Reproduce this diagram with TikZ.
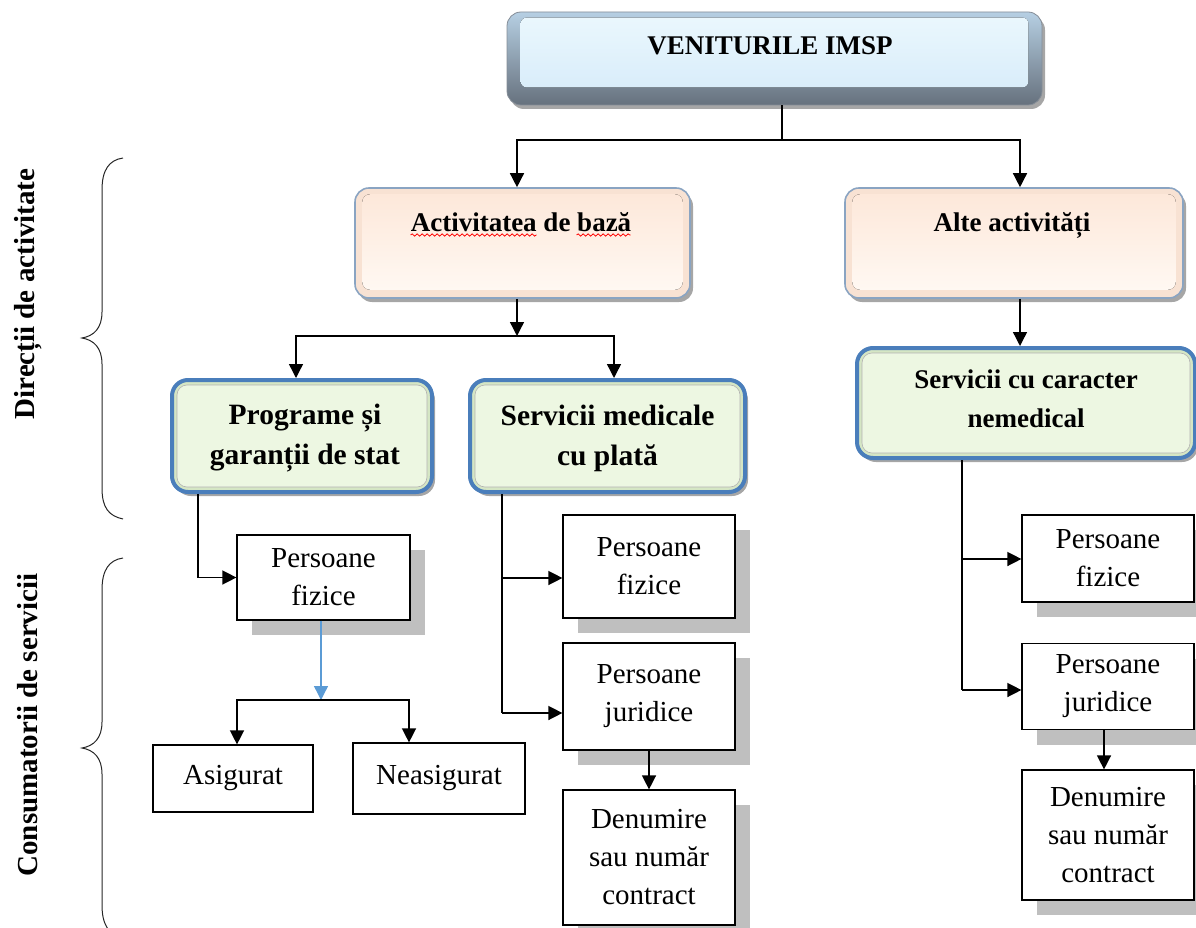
\documentclass[tikz,border=0pt]{standalone}
\usepackage{fontspec}
\setmainfont{Liberation Serif}
\usetikzlibrary{arrows.meta,shadows,calc,decorations.pathmorphing}
\definecolor{peachrim}{HTML}{F8E2D3}
\definecolor{peachin}{HTML}{FDE8DA}
\definecolor{peachlow}{HTML}{FFF8F2}
\definecolor{peachline}{HTML}{8AA4C2}
\definecolor{greenrim}{HTML}{D5E6C4}
\definecolor{greenin}{HTML}{EDF7E2}
\definecolor{blueline}{HTML}{4A7EBB}
\definecolor{topA}{HTML}{B6CFE3}
\definecolor{topB}{HTML}{66717D}
\definecolor{topinA}{HTML}{EAF7FD}
\definecolor{topinB}{HTML}{D9EDFA}
\definecolor{shade}{HTML}{BFBFBF}
\definecolor{arrowblue}{HTML}{5B9BD5}
\newcommand{\bft}{\fontsize{27}{39}\selectfont\bfseries}
\newcommand{\bgt}{\fontsize{29.5}{40}\selectfont\bfseries}
\newcommand{\lbt}{\fontsize{29}{34}\selectfont\bfseries}
\newcommand{\rgt}{\fontsize{29}{38}\selectfont}
\begin{document}
\begin{tikzpicture}[x=1pt,y=-1pt,
  arr/.style={-{Triangle[length=14pt,width=14pt]},line width=1.4pt,black},
  barr/.style={-{Triangle[length=14pt,width=14pt]},line width=1.4pt,arrowblue},
  ln/.style={line width=1.4pt,black},
  softshadow/.style={drop shadow={shadow xshift=3pt,shadow yshift=-4pt,fill=black,opacity=0.35}},
  topbox/.style={rectangle,rounded corners=14pt,top color=topA,bottom color=topB,draw=topB!80,line width=0.8pt,softshadow},
  peachbox/.style={rectangle,rounded corners=14pt,fill=peachrim,draw=peachline,line width=1.6pt,softshadow},
  greenbox/.style={rectangle,rounded corners=16pt,fill=greenrim,draw=blueline,line width=4pt,softshadow},
  plainbox/.style={rectangle,draw=black,line width=1.2pt,fill=white,align=center,font=\rgt,inner sep=2pt},
  shbox/.style={plainbox,drop shadow={shadow xshift=15pt,shadow yshift=-15pt,fill=shade,opacity=1}},
  boldtext/.style={font=\bft,align=center,inner sep=0pt},
  bigtext/.style={font=\bgt,align=center,inner sep=0pt},
  sidelabel/.style={font=\lbt,inner sep=0pt,rotate=90},
  wavy/.style={red,line width=0.8pt,decorate,decoration={snake,segment length=5pt,amplitude=1.1pt}},
  bracepath/.style={line width=1pt,black!85}
]
\useasboundingbox (0,0) rectangle (1196,928);

% top box
\node[topbox,minimum width=535,minimum height=93] (top) at (774.5,58.5) {};
\fill[rounded corners=6pt,top color=topinA,bottom color=topinB] ($(top.north west)+(14,6)$) rectangle ($(top.south east)+(-14,-18)$);
\node[boldtext] (toptxt) at (770,46) {VENITURILE IMSP};

% peach boxes
\node[peachbox,minimum width=335,minimum height=110] (act) at (522.5,243) {};
\fill[rounded corners=8pt,top color=peachin,bottom color=peachlow] ($(act.north west)+(8,7)$) rectangle ($(act.south east)+(-8,-9)$);
\node[boldtext,anchor=base] (acttxt) at (521,231) {Activitatea de bază};
\draw[wavy] ([yshift=-4pt]acttxt.base west) -- ++(126,0);
\draw[wavy] ([xshift=166pt,yshift=-4pt]acttxt.base west) -- ++(54,0);

\node[peachbox,minimum width=338,minimum height=110] (alte) at (1014,243) {};
\fill[rounded corners=8pt,top color=peachin,bottom color=peachlow] ($(alte.north west)+(8,7)$) rectangle ($(alte.south east)+(-8,-9)$);
\node[boldtext,anchor=base] (altetxt) at (1012,231) {Alte activități};

% green boxes
\node[greenbox,minimum width=260,minimum height=112] (prog) at (302,436) {};
\fill[rounded corners=10pt,greenin,draw=black!30,line width=0.6pt] ($(prog.north west)+(7,7)$) rectangle ($(prog.south east)+(-7,-7)$);
\node[bigtext] (progtxt) at (305,438) {Programe și\\garanții de stat};

\node[greenbox,minimum width=275,minimum height=112] (serv) at (607.5,436) {};
\fill[rounded corners=10pt,greenin,draw=black!30,line width=0.6pt] ($(serv.north west)+(7,7)$) rectangle ($(serv.south east)+(-7,-7)$);
\node[bigtext] (servtxt) at (607.5,438) {Servicii medicale\\cu plată};

\node[greenbox,minimum width=338,minimum height=110] (car) at (1026,403) {};
\fill[rounded corners=10pt,greenin,draw=black!30,line width=0.6pt] ($(car.north west)+(7,7)$) rectangle ($(car.south east)+(-7,-7)$);
\node[boldtext] (cartxt) at (1026,399) {Servicii cu caracter\\nemedical};

% plain boxes
\node[shbox,minimum width=173,minimum height=85] (pf1) at (323.5,577.5) {Persoane\\fizice};
\node[plainbox,minimum width=160,minimum height=67] (asig) at (233,778.5) {Asigurat};
\node[plainbox,minimum width=172,minimum height=71] (neas) at (439,778.5) {Neasigurat};

\node[shbox,minimum width=172,minimum height=103] (pf2) at (649,566.5) {Persoane\\fizice};
\node[shbox,minimum width=172,minimum height=107] (pj2) at (649,696.5) {Persoane\\juridice};
\node[shbox,minimum width=172,minimum height=135] (den2) at (649,857.5) {Denumire\\sau număr\\contract};

\node[shbox,minimum width=172,minimum height=87] (pf3) at (1108,558.5) {Persoane\\fizice};
\node[shbox,minimum width=172,minimum height=86] (pj3) at (1108,686.5) {Persoane\\juridice};
\node[shbox,minimum width=172,minimum height=130] (den3) at (1108,835) {Denumire\\sau număr\\contract};

% connectors
\coordinate (s0) at (782,140);
\draw[ln] (top.south -| s0) -- (s0);
\draw[arr] (s0) -| ([xshift=-5.5pt]act.north);
\draw[arr] (s0) -| ([xshift=6pt]alte.north);

\coordinate (a0) at ([xshift=-5.5pt]act.south);
\coordinate (s1) at (517,336);
\draw[arr] (a0) -- (s1);
\draw[arr] (s1) -| ([xshift=-6pt]prog.north);
\draw[arr] (s1) -| ([xshift=6.5pt]serv.north);

\coordinate (a1) at ([xshift=6pt]alte.south);
\draw[arr] (a1) -- (a1 |- car.north);

\coordinate (p1) at ([xshift=-104pt]prog.south);
\draw[arr] (p1) |- (pf1.west);
\coordinate (s2) at (321,700);
\draw[barr] (pf1.south -| s2) -- (s2);
\draw[arr] (s2) -| ([xshift=4pt]asig.north);
\draw[arr] (s2) -| ([xshift=-30pt]neas.north);

\coordinate (m1) at ([xshift=-105.5pt]serv.south);
\coordinate (m2) at (502,713);
\coordinate (m3) at (502,578);
\draw[ln] (m1) -- (m2);
\draw[arr] (m3) -- (m3 -| pf2.west);
\draw[arr] (m2) -- (m2 -| pj2.west);
\draw[arr] (pj2.south) -- (den2.north);

\coordinate (r1) at ([xshift=-64pt]car.south);
\coordinate (r2) at (962,690);
\coordinate (r3) at (962,559);
\draw[ln] (r1) -- (r2);
\draw[arr] (r3) -- (r3 -| pf3.west);
\draw[arr] (r2) -- (r2 -| pj3.west);
\coordinate (r4) at ([xshift=-4pt]pj3.south);
\draw[arr] (r4) -- (r4 |- den3.north);

% braces and side labels
\draw[bracepath] (123,158) .. controls (109,160) and (102,170) .. (102,190) -- (102,312) .. controls (102,328) and (94,336) .. (82,338) .. controls (94,340) and (102,348) .. (102,364) -- (102,488) .. controls (102,508) and (109,516) .. (123,519);
\draw[bracepath] (123,558) .. controls (109,560) and (102,570) .. (102,590) -- (102,722) .. controls (102,738) and (94,746) .. (82,748) .. controls (94,750) and (102,758) .. (102,774) -- (102,905) .. controls (102,925) and (109,935) .. (123,938);
\node[sidelabel] (lab1) at (28,294) {Direcții de activitate};
\node[sidelabel] (lab2) at (28,725) {Consumatorii de servicii};
\end{tikzpicture}
\end{document}
